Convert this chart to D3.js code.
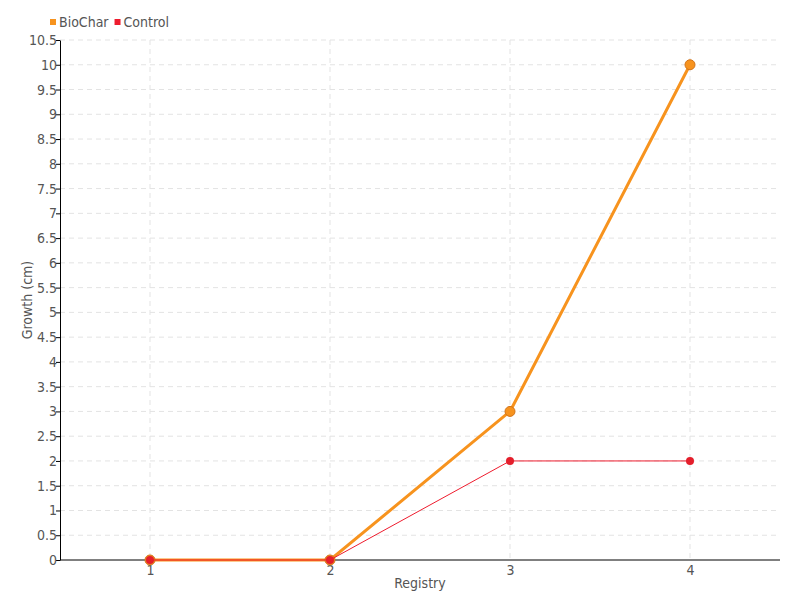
<!DOCTYPE html>
<html><head><meta charset="utf-8">
<script src="https://cdn.jsdelivr.net/npm/d3@7"></script>
<style>
body{margin:0;background:#fff;}
text{font-family:"DejaVu Sans Condensed","DejaVu Sans",sans-serif;font-stretch:condensed;fill:#555;}
</style></head>
<body><svg id="c" width="800" height="600"></svg>
<script>
const categories = ["1","2","3","4"];
const biochar = [0, 0, 3, 10];
const control = [0, 0, 2, 2];
const yTicks = d3.range(0, 10.51, 0.5);
const seriesNames = ["BioChar","Control"];
const colors = ["#f7931e","#ee1c2e"];

const svg = d3.select("#c");
const m = {l:60, r:20, t:40, b:40};
const W = 800, H = 600;
const x = d3.scalePoint().domain(categories).range([m.l, W-m.r]).padding(0.5);
const y = d3.scaleLinear().domain([0,10.5]).range([H-m.b, m.t]);

// grid
const g = svg.append("g");
g.selectAll("line.h").data(yTicks.filter(d=>d>0)).enter().append("line")
 .attr("x1", m.l).attr("x2", W-m.r).attr("y1", d=>y(d)).attr("y2", d=>y(d))
 .attr("stroke","#e3e3e3").attr("stroke-dasharray","5,4");
g.selectAll("line.v").data(categories).enter().append("line")
 .attr("x1", d=>x(d)).attr("x2", d=>x(d)).attr("y1", m.t).attr("y2", H-m.b)
 .attr("stroke","#e3e3e3").attr("stroke-dasharray","5,4");

// axes
const ya = svg.append("g").attr("transform",`translate(${m.l},0)`)
 .call(d3.axisLeft(y).tickValues(yTicks).tickFormat(d3.format("")).tickSize(4).tickSizeOuter(0));
ya.select(".domain").attr("stroke","#000");
ya.selectAll(".tick line").attr("stroke","#000");
ya.selectAll("text").attr("font-size",14).attr("x",-3);

const xa = svg.append("g").attr("transform",`translate(0,${H-m.b})`)
 .call(d3.axisBottom(x).tickSize(0).tickPadding(5).tickSizeOuter(0));
xa.select(".domain").attr("stroke","#000").attr("d",`M${m.l},0H${W-m.r}`);
xa.selectAll("text").attr("font-size",14);

svg.append("text").attr("x",(m.l+W-m.r)/2).attr("y",588).attr("text-anchor","middle")
 .attr("font-size",14).text("Registry");
svg.append("text").attr("transform","translate(32,300) rotate(-90)").attr("text-anchor","middle")
 .attr("font-size",14).text("Growth (cm)");

// lines
const line = d3.line().x((d,i)=>x(categories[i])).y(d=>y(d));
svg.append("path").datum(biochar).attr("d",line).attr("fill","none")
 .attr("stroke",colors[0]).attr("stroke-width",3);
svg.selectAll("circle.b").data(biochar).enter().append("circle")
 .attr("cx",(d,i)=>x(categories[i])).attr("cy",d=>y(d)).attr("r",5)
 .attr("fill",colors[0]).attr("stroke","#d2741a").attr("stroke-width",1);
svg.append("path").datum(control).attr("d",line).attr("fill","none")
 .attr("stroke",colors[1]).attr("stroke-width",1);
svg.selectAll("circle.c").data(control).enter().append("circle")
 .attr("cx",(d,i)=>x(categories[i])).attr("cy",d=>y(d)).attr("r",4)
 .attr("fill","#e41e2b");

// legend
const lg = svg.append("g");
let lx = 50;
seriesNames.forEach((n,i)=>{
  lg.append("rect").attr("x",lx).attr("y",19).attr("width",6).attr("height",6).attr("fill",colors[i]);
  const t = lg.append("text").attr("x",lx+9).attr("y",27).attr("font-size",14).text(n);
  lx += 9 + t.node().getComputedTextLength() + 6;
});
</script></body></html>
